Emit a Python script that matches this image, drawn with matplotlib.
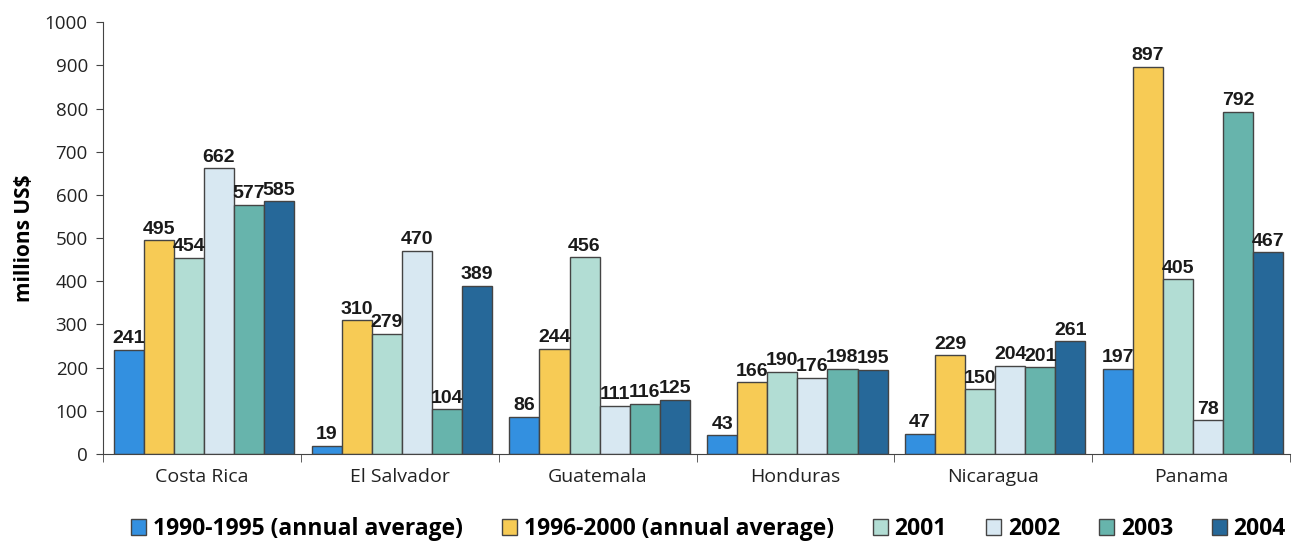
import matplotlib
matplotlib.use("Agg")
import matplotlib.pyplot as plt
import numpy as np
from matplotlib.patches import Patch

countries = ["Costa Rica", "El Salvador", "Guatemala", "Honduras", "Nicaragua", "Panama"]
series_names = ["1990-1995 (annual average)", "1996-2000 (annual average)", "2001", "2002", "2003", "2004"]
v_1990_1995 = [241, 19, 86, 43, 47, 197]
v_1996_2000 = [495, 310, 244, 166, 229, 897]
v_2001 = [454, 279, 456, 190, 150, 405]
v_2002 = [662, 470, 111, 176, 204, 78]
v_2003 = [577, 104, 116, 198, 201, 792]
v_2004 = [585, 389, 125, 195, 261, 467]
series = [v_1990_1995, v_1996_2000, v_2001, v_2002, v_2003, v_2004]
colors = ["#3390E0", "#F7CB55", "#B2DDD4", "#D8E8F2", "#67B4AC", "#266899"]

fig = plt.figure(figsize=(12.98, 5.41), dpi=100)
ax = fig.add_axes([0.0794, 0.1608, 0.9144, 0.7982])

x = np.arange(len(countries))
w = 0.152
for j, (vals, c) in enumerate(zip(series, colors)):
    pos = x + (j - 2.5) * w + 0.01
    ax.bar(pos, vals, width=w, color=c, edgecolor="#444444", linewidth=1.0, zorder=2)
    for p, v in zip(pos, vals):
        ax.text(p, v + 6, str(v), ha="center", va="bottom", fontsize=14,
                fontweight="bold", family="Liberation Sans", color="#1a1a1a")

ax.set_xlim(-0.5, len(countries) - 0.5)
ax.set_ylim(0, 1000)
ax.set_yticks(np.arange(0, 1001, 100))
ax.set_xticks(x)
ax.set_xticklabels(countries, family="Open Sans", fontsize=14, color="#222222")
ax.set_xticks(np.arange(-0.5, len(countries), 1), minor=True)
ax.tick_params(axis="x", which="major", length=0, pad=10)
ax.tick_params(axis="x", which="minor", length=6, color="#444444")
ax.tick_params(axis="y", length=5, color="#444444", pad=6)
for lab in ax.get_yticklabels():
    lab.set_family("Open Sans")
    lab.set_fontsize(13.5)
    lab.set_color("#222222")
ax.set_ylabel("millions US$", fontsize=15, fontweight="bold", family="Open Sans")
ax.yaxis.set_label_coords(-0.057, 0.5)
for s in ["top", "right"]:
    ax.spines[s].set_visible(False)
for s in ["left", "bottom"]:
    ax.spines[s].set_color("#444444")

handles = [Patch(facecolor=c, edgecolor="#444444", label=n) for c, n in zip(colors, series_names)]
fig.legend(handles=handles, loc="center", bbox_to_anchor=(0.546, 0.022), ncol=6, frameon=False,
           prop={"family": "Open Sans", "weight": "bold", "size": 16.5},
           handlelength=0.65, handleheight=0.65, handletextpad=0.3, columnspacing=1.7)

fig.savefig("out.png", dpi=100)
